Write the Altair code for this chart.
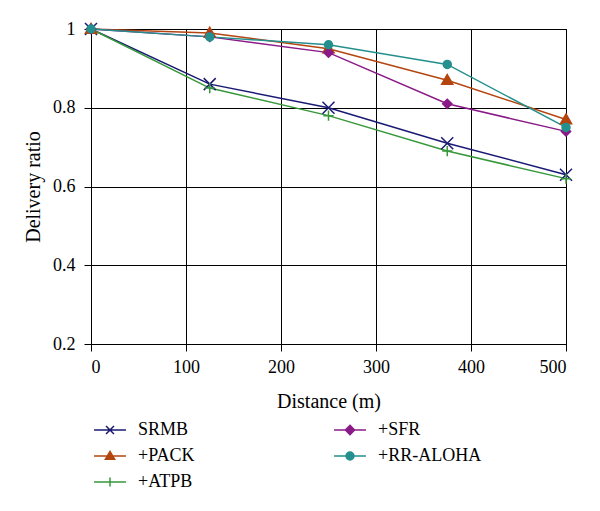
import altair as alt
import pandas as pd

distances = [0, 125, 250, 375, 500]
series_names = ["SRMB", "+PACK", "+ATPB", "+SFR", "+RR-ALOHA"]
srmb = [1.0, 0.86, 0.80, 0.71, 0.63]
pack = [1.0, 0.99, 0.95, 0.87, 0.77]
atpb = [1.0, 0.85, 0.78, 0.69, 0.62]
sfr = [1.0, 0.98, 0.94, 0.81, 0.74]
rraloha = [1.0, 0.98, 0.96, 0.91, 0.75]
x_ticks = [0, 100, 200, 300, 400, 500]
y_ticks = [0.2, 0.4, 0.6, 0.8, 1.0]

legend_order = series_names
colors = {"SRMB": "#1a1a75", "+SFR": "#8a1a88", "+PACK": "#b4450f",
          "+RR-ALOHA": "#23908e", "+ATPB": "#36983a"}
marker_paths = {
    "SRMB": "M-1,-1L1,1M-1,1L1,-1",
    "+SFR": "M0,-1L1,0L0,1L-1,0Z",
    "+PACK": "M0,-1L1,0.75L-1,0.75Z",
    "+RR-ALOHA": "circle",
    "+ATPB": "M-1,0L1,0M0,-1L0,1",
}
marker_sizes = {"SRMB": 144, "+SFR": 64, "+PACK": 64, "+RR-ALOHA": 49, "+ATPB": 100}
L = "M-1.45,0L1.45,0"
legend_paths = {
    "SRMB": L + "M-0.36,-0.36L0.36,0.36M-0.36,0.36L0.36,-0.36",
    "+SFR": L + "M0,-0.42L0.42,0L0,0.42L-0.42,0Z",
    "+PACK": L + "M0,-0.42L0.42,0.3L-0.42,0.3Z",
    "+RR-ALOHA": L + "M-0.36,0A0.36,0.36 0 1,0 0.36,0A0.36,0.36 0 1,0 -0.36,0Z",
    "+ATPB": L + "M0,-0.4L0,0.4",
}

values = {"SRMB": srmb, "+PACK": pack, "+ATPB": atpb, "+SFR": sfr, "+RR-ALOHA": rraloha}
rows = []
for name in series_names:
    for d, v in zip(distances, values[name]):
        rows.append({"series": name, "distance": d, "ratio": v})
df = pd.DataFrame(rows)

color_range = [colors[s] for s in legend_order]
FONT = "Liberation Serif"

x = alt.X("distance:Q", scale=alt.Scale(domain=[0, 500], nice=False),
          axis=alt.Axis(values=x_ticks, title="Distance (m)", labelPadding=7,
                        titlePadding=15))
y = alt.Y("ratio:Q", scale=alt.Scale(domain=[0.2, 1.0], nice=False, zero=False),
          axis=alt.Axis(values=y_ticks, format=".1~f", title="Delivery ratio",
                        labelPadding=9, titlePadding=9))

leg = alt.Legend(title=None, orient="none", legendX=7, legendY=389, columns=2,
                 columnPadding=136, rowPadding=5, symbolSize=484,
                 symbolStrokeWidth=1.5, labelOffset=16, labelFont=FONT,
                 labelFontSize=18, labelColor="black", padding=0,
                 symbolOpacity=1, labelLimit=300)

legend_layer = alt.Chart(df).mark_point(filled=True, opacity=0).encode(
    x=x, y=y,
    fill=alt.Fill("series:N", scale=alt.Scale(domain=legend_order, range=color_range), legend=leg),
    stroke=alt.Stroke("series:N", scale=alt.Scale(domain=legend_order, range=color_range), legend=leg),
    shape=alt.Shape("series:N", scale=alt.Scale(domain=legend_order,
                    range=[legend_paths[s] for s in legend_order]), legend=leg),
)

lines = alt.Chart(df).mark_line(strokeWidth=1.5).encode(
    x=x, y=y,
    color=alt.Color("series:N", scale=alt.Scale(domain=legend_order, range=color_range), legend=None),
    detail="series:N",
)

points = alt.Chart(df).mark_point(filled=True, opacity=1, strokeWidth=1.5).encode(
    x=x, y=y,
    fill=alt.Fill("series:N", scale=alt.Scale(domain=legend_order, range=color_range), legend=None),
    stroke=alt.Stroke("series:N", scale=alt.Scale(domain=legend_order, range=color_range), legend=None),
    shape=alt.Shape("series:N", scale=alt.Scale(domain=legend_order,
                    range=[marker_paths[s] for s in legend_order]), legend=None),
    size=alt.Size("series:N", scale=alt.Scale(domain=legend_order,
                  range=[marker_sizes[s] for s in legend_order]), legend=None),
)

chart = alt.layer(legend_layer, lines, points).resolve_scale(
    color="independent", fill="independent", stroke="independent",
    shape="independent", size="independent"
).resolve_legend(
    color="independent", fill="independent", stroke="independent",
    shape="independent", size="independent"
).properties(
    width=475, height=315,
    background="white",
    autosize=alt.AutoSizeParams(type="none"),
    padding={"left": 83, "top": 21, "right": 26, "bottom": 159},
).configure_view(
    stroke="black", strokeWidth=1
).configure_axis(
    labelFont=FONT, labelFontSize=18, labelColor="black",
    titleFont=FONT, titleFontSize=20, titleColor="black", titleFontWeight="normal",
    domainColor="black", tickColor="black", gridColor="black", gridOpacity=1,
    grid=True, tickSize=7, domainWidth=1, gridWidth=1, tickWidth=1,
).configure_legend(
    labelFont=FONT, labelFontSize=18, labelColor="black"
)

chart.save("out.html", embed_options={"renderer": "svg", "actions": False})
